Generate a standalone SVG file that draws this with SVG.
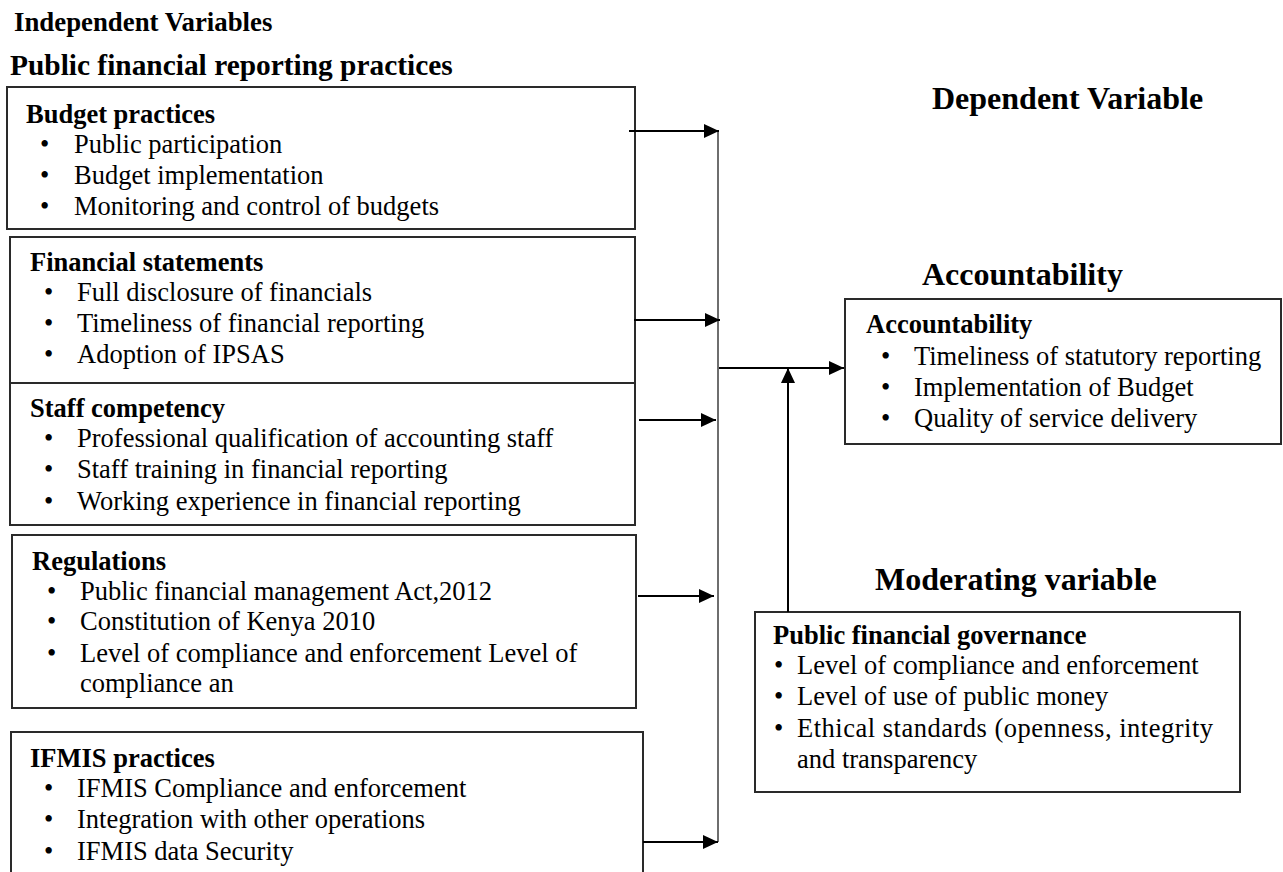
<svg xmlns="http://www.w3.org/2000/svg" width="1283" height="872" viewBox="0 0 1283 872">
<style>
.box{fill:#fff;stroke:#2a2a2a;stroke-width:2}
text{font-family:"Liberation Serif","Times New Roman",serif;font-size:26.5px;fill:#000}
.b{font-weight:bold}
.h{font-size:32px;font-weight:bold}
.conn line{stroke:#000;stroke-width:2;fill:none}
.conn line.bus{stroke:#6e6e6e}
</style>
<defs>
<marker id="arr" markerUnits="userSpaceOnUse" markerWidth="16" markerHeight="15" refX="15" refY="7" orient="auto">
<path d="M0,0 L15,7 L0,14 z" fill="#000"/>
</marker>
</defs>
<rect width="1283" height="872" fill="#fff"/>
<g id="headings">
<text class="b" x="14" y="31" style="font-size:26.8px">Independent Variables</text>
<text class="b" x="10" y="75" style="font-size:29.4px">Public financial reporting practices</text>
<text class="h" x="932" y="109">Dependent Variable</text>
<text class="h" x="922" y="285">Accountability</text>
<text class="h" x="875" y="590">Moderating variable</text>
</g>
<g id="budget">
<rect class="box" x="7" y="87" width="628" height="142"/>
<text class="b" x="26" y="123">Budget practices</text>
<text x="40" y="153">•</text><text x="74" y="153">Public participation</text>
<text x="40" y="184">•</text><text x="74" y="184">Budget implementation</text>
<text x="40" y="215">•</text><text x="74" y="215">Monitoring and control of budgets</text>
</g>
<g id="financial">
<rect class="box" x="10" y="237" width="625" height="146"/>
<text class="b" x="30" y="271">Financial statements</text>
<text x="44" y="301">•</text><text x="77" y="301">Full disclosure of financials</text>
<text x="44" y="332">•</text><text x="77" y="332">Timeliness of financial reporting</text>
<text x="44" y="363">•</text><text x="77" y="363">Adoption of IPSAS</text>
</g>
<g id="staff">
<rect class="box" x="10" y="383" width="625" height="142"/>
<text class="b" x="30" y="417">Staff competency</text>
<text x="44" y="447">•</text><text x="77" y="447">Professional qualification of accounting staff</text>
<text x="44" y="478">•</text><text x="77" y="478">Staff training in financial reporting</text>
<text x="44" y="510">•</text><text x="77" y="510">Working experience in financial reporting</text>
</g>
<g id="regulations">
<rect class="box" x="12" y="535" width="624" height="173"/>
<text class="b" x="32" y="570">Regulations</text>
<text x="47" y="600">•</text><text x="80" y="600">Public financial management Act,2012</text>
<text x="47" y="630">•</text><text x="80" y="630">Constitution of Kenya 2010</text>
<text x="47" y="662">•</text><text x="80" y="662">Level of compliance and enforcement Level of</text>
<text x="80" y="692">compliance an</text>
</g>
<g id="ifmis">
<rect class="box" x="11" y="732" width="632" height="160"/>
<text class="b" x="30" y="767">IFMIS practices</text>
<text x="44" y="797">•</text><text x="77" y="797">IFMIS Compliance and enforcement</text>
<text x="44" y="828">•</text><text x="77" y="828">Integration with other operations</text>
<text x="44" y="860">•</text><text x="77" y="860">IFMIS data Security</text>
</g>
<g id="accountability">
<rect class="box" x="845" y="299" width="436" height="145"/>
<text class="b" x="866" y="333">Accountability</text>
<text x="881" y="365">•</text><text x="914" y="365">Timeliness of statutory reporting</text>
<text x="881" y="396">•</text><text x="914" y="396">Implementation of Budget</text>
<text x="881" y="427">•</text><text x="914" y="427">Quality of service delivery</text>
</g>
<g id="governance">
<rect class="box" x="755" y="612" width="485" height="180"/>
<text class="b" x="773" y="644">Public financial governance</text>
<text x="774" y="674">•</text><text x="797" y="674">Level of compliance and enforcement</text>
<text x="774" y="705">•</text><text x="797" y="705">Level of use of public money</text>
<text x="774" y="737">•</text><text x="797" y="737" textLength="416" lengthAdjust="spacing">Ethical standards (openness, integrity</text>
<text x="797" y="768">and transparency</text>
</g>
<g id="connectors" class="conn">
<line class="bus" x1="718" y1="131" x2="718" y2="842"/>
<line x1="629" y1="131" x2="719" y2="131" marker-end="url(#arr)"/>
<line x1="634" y1="320" x2="720" y2="320" marker-end="url(#arr)"/>
<line x1="639" y1="420" x2="716" y2="420" marker-end="url(#arr)"/>
<line x1="638" y1="596" x2="714" y2="596" marker-end="url(#arr)"/>
<line x1="643" y1="842" x2="718" y2="842" marker-end="url(#arr)"/>
<line x1="719" y1="368" x2="844" y2="368" marker-end="url(#arr)"/>
<line x1="788" y1="612" x2="788" y2="368" marker-end="url(#arr)"/>
</g>
</svg>
